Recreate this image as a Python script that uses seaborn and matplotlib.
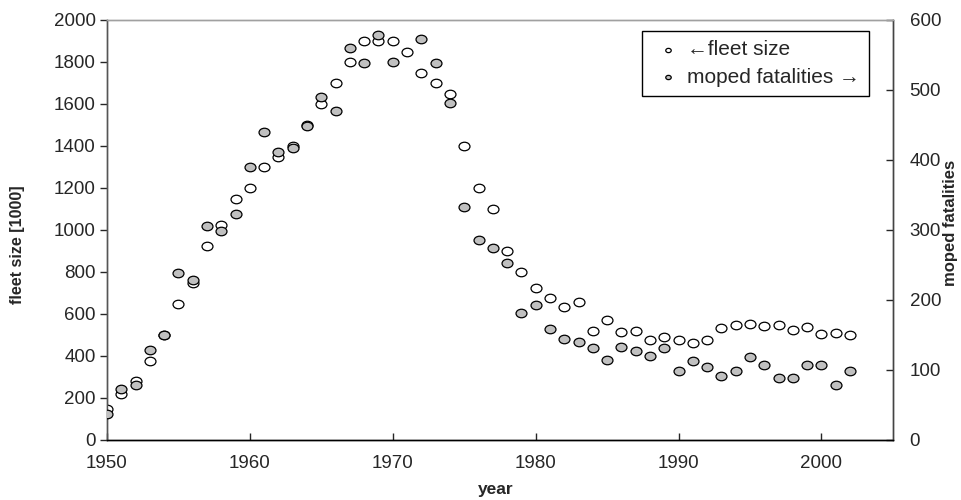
import numpy as np
import matplotlib
matplotlib.use('Agg')
import matplotlib.pyplot as plt
from matplotlib.path import Path
import seaborn as sns

years = list(range(1950, 2003))
fleet_size = [150, 220, 280, 375, 500, 650, 750, 925, 1025, 1150,
              1200, 1300, 1350, 1400, 1500, 1600, 1700, 1800, 1900, 1900,
              1900, 1850, 1750, 1700, 1650, 1400, 1200, 1100, 900, 800,
              725, 675, 635, 655, 520, 570, 515, 520, 475, 490,
              475, 460, 478, 535, 548, 552, 545, 548, 525, 540,
              505, 510, 502]
moped_fatalities = [37, 73, 78, 128, 150, 238, 229, 306, 299, 323,
                    390, 440, 411, 417, 449, 490, 470, 560, 538, 578,
                    540, np.nan, 573, 538, 482, 333, 285, 274, 253, 182,
                    193, 159, 144, 140, 131, 115, 133, 127, 120, 131,
                    98, 113, 105, 92, 98, 118, 107, 88, 88, 107,
                    107, 78, 98]
x_ticks = [1950, 1960, 1970, 1980, 1990, 2000]
left_ticks = [0, 200, 400, 600, 800, 1000, 1200, 1400, 1600, 1800, 2000]
right_ticks = [0, 100, 200, 300, 400, 500, 600]

sns.set_style('white')
plt.rcParams['font.family'] = ['Liberation Sans', 'DejaVu Sans']

# slightly flattened circle, like the stretched original
circ = Path.unit_circle()
ellipse = Path(circ.vertices * np.array([1.0, 0.78]), circ.codes)

fig = plt.figure(figsize=(9.62, 5.0), dpi=100)
ax = fig.add_axes([0.1112, 0.12, 0.817, 0.84])
ax2 = ax.twinx()

sns.scatterplot(x=years, y=fleet_size, ax=ax, marker=ellipse, s=62,
                color='white', edgecolor='black', linewidth=0.9,
                label='\u2190fleet size', legend=False, zorder=3)
sns.scatterplot(x=years, y=moped_fatalities, ax=ax2, marker=ellipse, s=62,
                color='#c0c0c0', edgecolor='black', linewidth=0.9,
                label='moped fatalities \u2192', legend=False, zorder=3)

ax.set_xlim(1950, 2005)
ax.set_ylim(0, 2000)
ax2.set_ylim(0, 600)
ax.set_xticks(x_ticks)
ax.set_yticks(left_ticks)
ax2.set_yticks(right_ticks)

ax.tick_params(axis='x', direction='in', length=5, width=1, pad=11,
               labelsize=13.5, bottom=True)
ax.tick_params(axis='y', direction='out', length=5, width=1, pad=3,
               labelsize=13.5, left=True)
ax2.tick_params(axis='y', direction='in', length=5, width=1, pad=12,
                labelsize=13.5, right=True)

ax.set_xlabel('year', fontsize=12.5, fontweight='bold')
ax.set_ylabel('fleet size [1000]', fontsize=11.5, fontweight='bold')
ax2.set_ylabel('moped fatalities', fontsize=12, fontweight='bold')
ax.xaxis.set_label_coords(0.495, -0.1)
ax.yaxis.set_label_coords(-0.104, 0.465)
ax2.yaxis.set_label_coords(1.0636, 0.517)

for a in (ax, ax2):
    a.spines['top'].set_color('#a0a0a0')
    a.spines['bottom'].set_color('black')
    a.spines['left'].set_color('#555555')
    a.spines['right'].set_color('#444444')
    for s in a.spines.values():
        s.set_linewidth(1.0)
        s.set_visible(True)

h1, l1 = ax.get_legend_handles_labels()
h2, l2 = ax2.get_legend_handles_labels()
leg = ax2.legend(h1 + h2, l1 + l2, loc='upper right',
                 bbox_to_anchor=(0.9695, 0.974), borderaxespad=0,
                 fontsize=15, markerscale=0.5, frameon=True, fancybox=False,
                 edgecolor='black', handlelength=1.6, handletextpad=0.1,
                 borderpad=0.45, labelspacing=0.4)
leg.get_frame().set_linewidth(1.0)
leg.get_frame().set_alpha(1)

fig.savefig('out.png', dpi=100)
